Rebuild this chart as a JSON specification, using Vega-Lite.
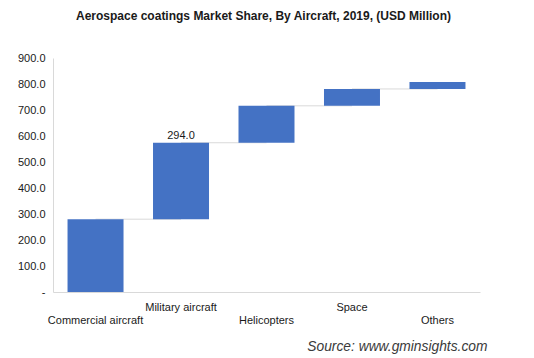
{
  "$schema": "https://vega.github.io/schema/vega-lite/v6.json",
  "width": 427,
  "height": 234,
  "autosize": "none",
  "padding": {"left": 53, "top": 58, "right": 54, "bottom": 66},
  "background": "white",
  "config": {
    "view": {"stroke": null},
    "font": "Liberation Sans",
    "axis": {"labelOverlap": false}
  },
  "title": {
    "text": "Aerospace coatings Market Share, By Aircraft, 2019, (USD Million)",
    "fontSize": 12,
    "fontWeight": "bold",
    "color": "#1a1a1a",
    "offset": 29,
    "anchor": "middle",
    "dx": -3
  },
  "data": {
    "values": [
      {"category": "Commercial aircraft", "start": 0, "end": 280, "next": "Military aircraft", "label": ""},
      {"category": "Military aircraft", "start": 280, "end": 574, "next": "Helicopters", "label": "294.0"},
      {"category": "Helicopters", "start": 574, "end": 716, "next": "Space", "label": ""},
      {"category": "Space", "start": 716, "end": 781, "next": "Others", "label": ""},
      {"category": "Others", "start": 781, "end": 808, "next": null, "label": ""}
    ]
  },
  "encoding": {
    "x": {
      "field": "category",
      "type": "nominal",
      "sort": null,
      "scale": {"paddingInner": 0.345, "paddingOuter": 0.17},
      "axis": {
        "title": "Source: www.gminsights.com",
        "titleFontStyle": "italic",
        "titleFontWeight": "normal",
        "titleFontSize": 13.8,
        "titleColor": "#3a3a3a",
        "titleAlign": "right",
        "titleAnchor": "end",
        "titleBaseline": "middle",
        "titleX": 434,
        "titleY": 54,
        "labelAngle": 0,
        "labelFontSize": 11,
        "labelColor": "#1a1a1a",
        "labelPadding": {"expr": "datum.value == 'Military aircraft' || datum.value == 'Space' ? 9 : 22"},
        "ticks": false,
        "domainColor": "#d9d9d9",
        "grid": false
      }
    },
    "y": {
      "field": "end",
      "type": "quantitative",
      "scale": {"domain": [0, 900], "nice": false, "zero": true},
      "axis": {
        "title": null,
        "tickCount": 9,
        "format": ".1f",
        "labelExpr": "datum.value == 0 ? '-' : datum.label",
        "labelFontSize": 11,
        "labelColor": "#1a1a1a",
        "labelPadding": 8,
        "labelOverlap": false,
        "labelFlush": false,
        "labelSeparation": 0,
        "ticks": false,
        "grid": false,
        "domainColor": "#d9d9d9"
      }
    }
  },
  "layer": [
    {
      "transform": [{"filter": "datum.next != null"}],
      "mark": {"type": "rule", "color": "#d9d9d9", "strokeWidth": 1},
      "encoding": {
        "x2": {"field": "next"}
      }
    },
    {
      "mark": {"type": "bar", "color": "#4472C4"},
      "encoding": {
        "y": {
          "field": "start",
          "type": "quantitative",
          "scale": {"domain": [0, 900], "nice": false, "zero": true},
          "axis": {
            "title": null,
            "tickCount": 9,
            "format": ".1f",
            "labelExpr": "datum.value == 0 ? '-' : datum.label",
            "labelFontSize": 11,
            "labelColor": "#1a1a1a",
            "labelPadding": 8,
            "labelOverlap": false,
            "labelFlush": false,
            "labelSeparation": 0,
            "ticks": false,
            "grid": false,
            "domainColor": "#d9d9d9"
          }
        },
        "y2": {"field": "end"}
      }
    },
    {
      "mark": {"type": "text", "baseline": "bottom", "dy": -2, "fontSize": 11, "color": "#1a1a1a"},
      "encoding": {
        "text": {"field": "label"}
      }
    }
  ]
}
